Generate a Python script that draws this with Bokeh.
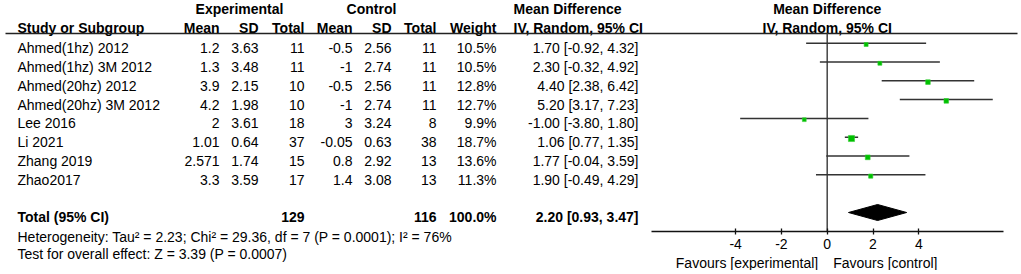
from bokeh.plotting import figure
from bokeh.models import ColumnDataSource, Range1d, LinearAxis, FixedTicker
from bokeh.core.properties import value
from bokeh.embed import file_html
from bokeh.resources import INLINE

# ---------------- data ----------------
studies = ["Ahmed(1hz) 2012", "Ahmed(1hz) 3M 2012", "Ahmed(20hz) 2012", "Ahmed(20hz) 3M 2012",
           "Lee 2016", "Li 2021", "Zhang 2019", "Zhao2017"]
exp_mean = [1.2, 1.3, 3.9, 4.2, 2, 1.01, 2.571, 3.3]
exp_sd = [3.63, 3.48, 2.15, 1.98, 3.61, 0.64, 1.74, 3.59]
exp_n = [11, 11, 10, 10, 18, 37, 15, 17]
ctl_mean = [-0.5, -1, -0.5, -1, 3, -0.05, 0.8, 1.4]
ctl_sd = [2.56, 2.74, 2.56, 2.74, 3.24, 0.63, 2.92, 3.08]
ctl_n = [11, 11, 11, 11, 8, 38, 13, 13]
weight = [10.5, 10.5, 12.8, 12.7, 9.9, 18.7, 13.6, 11.3]
md = [1.70, 2.30, 4.40, 5.20, -1.00, 1.06, 1.77, 1.90]
ci_lo = [-0.92, -0.32, 2.38, 3.17, -3.80, 0.77, -0.04, -0.49]
ci_hi = [4.32, 4.92, 6.42, 7.23, 1.80, 1.35, 3.59, 4.29]

total_exp_n = 129
total_ctl_n = 116
total_weight = 100.0
total_md = 2.20
total_lo = 0.93
total_hi = 3.47

heterogeneity = "Heterogeneity: Tau\u00b2 = 2.23; Chi\u00b2 = 29.36, df = 7 (P = 0.0001); I\u00b2 = 76%"
overall = "Test for overall effect: Z = 3.39 (P = 0.0007)"
axis_ticks = [-4, -2, 0, 2, 4]
fav_left = "Favours [experimental]"
fav_right = "Favours [control]"

# ---------------- layout constants (reference pixel units) ----------------
FONT = "Liberation Sans"
FS = "14px"
W, H = 1019, 270
ZERO_PX = 826.7
PX_PER_UNIT = 22.9
ROW0 = 42.7
ROW_STEP = 18.8
LINE_COL = "#333333"

p = figure(width=W, height=H, x_range=Range1d(0, W), y_range=Range1d(H, 0),
           output_backend="svg", toolbar_location=None, min_border=0,
           x_axis_type=None, y_axis_type=None, outline_line_color=None)
p.grid.visible = False
p.extra_x_ranges = {"md": Range1d((0 - ZERO_PX) / PX_PER_UNIT, (W - ZERO_PX) / PX_PER_UNIT)}

n = len(studies)
row_y = [ROW0 + ROW_STEP * i for i in range(n)]
text_y = [y + 5 for y in row_y]


def put(xs, ys, texts, align="right", bold=False, rng="default", xoff=0):
    src = ColumnDataSource(dict(x=xs, y=ys, t=texts))
    p.text(x="x", y="y", text="t", source=src, text_font=value(FONT), text_font_size=value(FS),
           text_font_style="bold" if bold else "normal", text_align=align,
           text_baseline="middle", text_color="#000000", x_range_name=rng, x_offset=xoff)


# headers
H1, H2 = 8.5, 27
put([239, 371], [H1, H1], ["Experimental", "Control"], align="center", bold=True)
put([513], [H1], ["Mean Difference"], align="left", bold=True)
put([17], [H2], ["Study or Subgroup"], align="left", bold=True)
put([219, 258, 304, 352, 391, 436, 496], [H2] * 7,
    ["Mean", "SD", "Total", "Mean", "SD", "Total", "Weight"], bold=True)
put([513], [H2], ["IV, Random, 95% CI"], align="left", bold=True)
put([0, 0], [H1, H2], ["Mean Difference", "IV, Random, 95% CI"], align="center", bold=True, rng="md")

# header rule
p.segment(x0=[5], y0=[33], x1=[1017], y1=[33], line_color="#222222", line_width=1.3)

# study rows
put([17] * n, text_y, studies, align="left")
put([219] * n, text_y, [str(v) for v in exp_mean])
put([258] * n, text_y, [str(v) for v in exp_sd])
put([304] * n, text_y, [str(v) for v in exp_n])
put([352] * n, text_y, [str(v) for v in ctl_mean])
put([391] * n, text_y, [str(v) for v in ctl_sd])
put([436] * n, text_y, [str(v) for v in ctl_n])
put([496] * n, text_y, [f"{w:.1f}%" for w in weight])
put([638] * n, text_y, [f"{m:.2f} [{l:.2f}, {h:.2f}]" for m, l, h in zip(md, ci_lo, ci_hi)])

# total row
ty = 216.5
put([17], [ty], ["Total (95% CI)"], align="left", bold=True)
put([304, 436, 496], [ty] * 3, [str(total_exp_n), str(total_ctl_n), f"{total_weight:.1f}%"], bold=True)
put([638], [ty], [f"{total_md:.2f} [{total_lo:.2f}, {total_hi:.2f}]"], bold=True)
put([17, 17], [236.7, 253], [heterogeneity, overall], align="left")

# forest plot
AXIS_Y = 230.7
p.segment(x0=[0], y0=[33], x1=[0], y1=[AXIS_Y], line_color="#444444", line_width=1.5, x_range_name="md")
p.segment(x0=ci_lo, y0=row_y, x1=ci_hi, y1=row_y, line_color=LINE_COL, line_width=1.5, x_range_name="md")
sizes = [0.68 * w ** 0.75 for w in weight]
p.scatter(x=md, y=[y + 1.3 for y in row_y], size=sizes, marker="square", fill_color="#00c000",
          line_color="#33cc33", line_width=0.6, x_range_name="md")
dy = 212
p.patch(x=[total_lo, total_md, total_hi, total_md], y=[dy, dy - 8, dy, dy + 8],
        fill_color="#000000", line_color="#000000", x_range_name="md")

axis = LinearAxis(x_range_name="md", fixed_location=AXIS_Y, bounds=(-7.68, 7.68),
                  ticker=FixedTicker(ticks=axis_ticks),
                  major_label_overrides={t: str(t) for t in axis_ticks})
axis.axis_line_color = "#111111"
axis.axis_line_width = 1.3
axis.major_tick_line_color = "#111111"
axis.major_tick_line_width = 1.3
axis.major_tick_in = 3
axis.major_tick_out = 3
axis.minor_tick_line_color = None
axis.major_label_standoff = 5
axis.major_label_text_font = FONT
axis.major_label_text_font_size = FS
axis.major_label_text_color = "#000000"
p.add_layout(axis, "below")

put([0], [262], [fav_left], align="right", rng="md", xoff=-9)
put([0], [262], [fav_right], align="left", rng="md", xoff=6)

open("out.html", "w").write(file_html(p, INLINE))
